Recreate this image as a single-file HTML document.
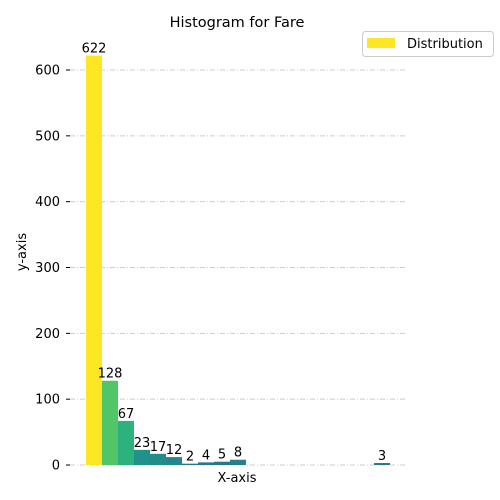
<!DOCTYPE html><html><head><meta charset="utf-8"><style>body{margin:0;background:#fff}svg{display:block;font-family:"DejaVu Sans","Liberation Sans",sans-serif}</style></head><body>
<svg width="500" height="500" id="c">
<text x="237" y="27" font-size="14.5" text-anchor="middle">Histogram for Fare</text>
<text x="237" y="482" font-size="13" text-anchor="middle">X-axis</text>
<text transform="translate(26,252) rotate(-90)" font-size="13" text-anchor="middle">y-axis</text>
<g>
<rect x="362.5" y="31.5" width="131" height="25" rx="3" fill="#fff" stroke="#ccc"/>
<rect x="367" y="38" width="28" height="10" fill="#fde725"/>
<text x="407" y="48" font-size="13">Distribution</text>
</g>
<g id="grid"></g><g id="bars"></g>
</svg>
<script>
const counts=[622,128,67,23,17,12,2,4,5,8,0,0,0,0,0,0,0,0,3,0];
const colors=["#fde725","#52c569","#2db27d","#21918c","#228c8d","#24868e","#2a768e","#2a768e","#2a768e","#277f8e","#2a768e","#2a768e","#2a768e","#2a768e","#2a768e","#2a768e","#2a768e","#2a768e","#2a768e","#2a768e"];
const yTicks=[0,100,200,300,400,500,600];
const NS="http://www.w3.org/2000/svg";
const y=v=>465-v*0.6583;
const x=i=>86+i*16;
const g=document.getElementById('grid'),b=document.getElementById('bars');
function mk(t,a,p){const e=document.createElementNS(NS,t);for(const k in a)e.setAttribute(k,a[k]);p.appendChild(e);return e;}
yTicks.forEach(t=>{
 const l=mk('line',{x1:70,x2:405,y1:y(t),y2:y(t),stroke:'#ccc','stroke-dasharray':'5,2,1,2'},g);
 
 
 const k=mk('line',{x1:66,x2:70,y1:y(t),y2:y(t),stroke:'#000'},g);
 
 
 const tx=mk('text',{x:60,y:y(t)+4.5,'font-size':13,'text-anchor':'end'},g);tx.textContent=t;
 
 
});
counts.forEach((c,i)=>{
 if(c<=0)return;
 const r=mk('rect',{x:x(i),y:y(c),width:16,height:465-y(c),fill:colors[i]},b);
 
 
 const t=mk('text',{x:x(i)+8,y:y(c)-3,'font-size':13,'text-anchor':'middle'},b);t.textContent=c;
 
 
});
</script>
</body></html>
